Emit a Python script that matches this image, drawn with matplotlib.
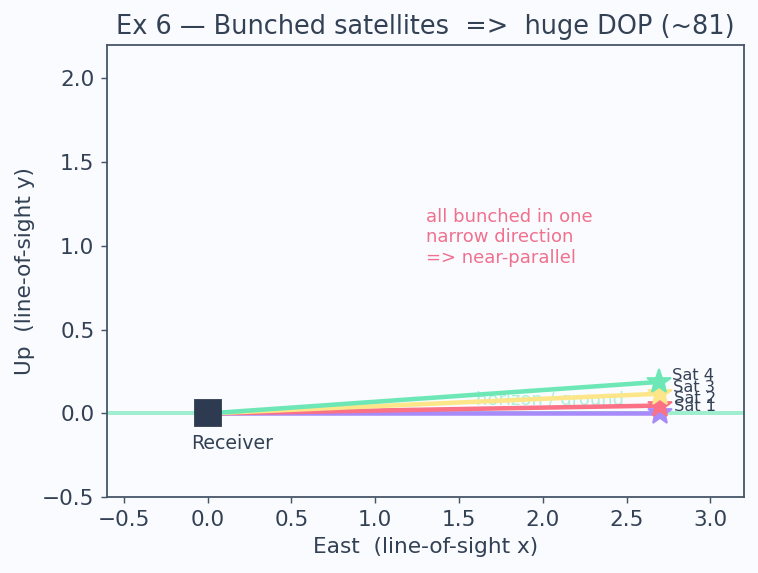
import numpy as np
import matplotlib
matplotlib.use("Agg")
import matplotlib.pyplot as plt

# satellite data (elevation angles in degrees, range in units)
sat_names = ["Sat 1", "Sat 2", "Sat 3", "Sat 4"]
sat_elev_deg = [0.0, 1.0, 2.5, 4.0]
sat_range = [2.7, 2.7, 2.7, 2.7]
sat_colors = ["#a78bfa", "#fb7185", "#fde68a", "#6ee7b7"]

title = "Ex 6 \u2014 Bunched satellites  =>  huge DOP (~81)"
note = "all bunched in one\nnarrow direction\n=> near-parallel"

text_col = "#334155"
bg = "#fafbfe"

plt.rcParams["font.family"] = ["DejaVu Sans"]

DPI = 130
fig = plt.figure(figsize=(758 / DPI, 573 / DPI), dpi=DPI, facecolor=bg)
ax = fig.add_axes([0.1412, 0.1309, 0.8403, 0.7923], facecolor=bg)

# horizon
ax.axhline(0, color="#6ee7b7", lw=2.2, alpha=0.65, zorder=1)
ax.text(1.6, 0.08, "horizon / ground", color="#6ee7b7", alpha=0.55,
        fontsize=10, va="center", zorder=1.5)

# satellites
for name, el, r, c in zip(sat_names, sat_elev_deg, sat_range, sat_colors):
    x = r * np.cos(np.radians(el))
    y = r * np.sin(np.radians(el))
    ax.plot([0, x], [0, y], color=c, lw=2.5, zorder=2)
    ax.plot(x, y, marker="*", color=c, markersize=14, zorder=3)
    ax.text(x + 0.08, y + 0.04, name, fontsize=9, color=text_col,
            va="center", ha="left", zorder=4)

# receiver
ax.plot(0, 0, marker="s", color="#2d3a4f", markersize=14, zorder=5)
ax.text(-0.1, -0.18, "Receiver", ha="left", va="center", fontsize=10.5,
        color=text_col)

ax.text(1.3, 1.05, note, color="#f0708e", fontsize=10, va="center",
        ha="left")

ax.set_xlim(-0.6, 3.2)
ax.set_ylim(-0.5, 2.2)
ax.set_aspect("equal", adjustable="box")
ax.set_xticks(np.arange(-0.5, 3.01, 0.5))
ax.set_yticks(np.arange(-0.5, 2.01, 0.5))

ax.set_title(title, fontsize=14.2, color=text_col, pad=6)
ax.set_xlabel("East  (line-of-sight x)", fontsize=12, color=text_col)
ax.set_ylabel("Up  (line-of-sight y)", fontsize=12, color=text_col)
ax.tick_params(colors=text_col, labelsize=12, color="#475569")
for s in ax.spines.values():
    s.set_color("#475569")
    s.set_linewidth(1.0)

fig.savefig("out.png", dpi=DPI, facecolor=bg)
